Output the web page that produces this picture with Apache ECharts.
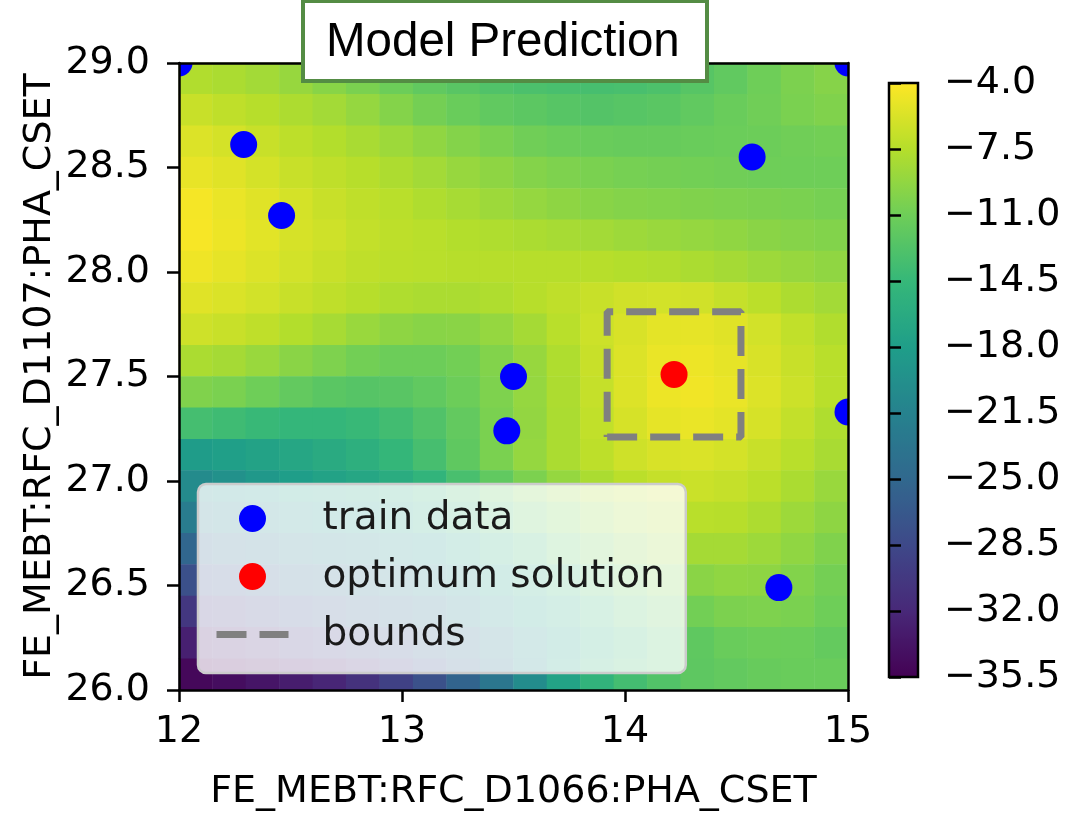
<!DOCTYPE html>
<html>
<head>
<meta charset="utf-8">
<title>Model Prediction</title>
<script src="https://cdn.jsdelivr.net/npm/echarts@6.0.0/dist/echarts.min.js"></script>
<style>
  html, body { margin: 0; padding: 0; background: #fff; }
  #chart { width: 1076px; height: 815px; }
</style>
</head>
<body>
<div id="chart"></div>
<script>
// centres of the prediction grid cells
const gridX = [12.075, 12.225, 12.375, 12.525, 12.675, 12.825, 12.975, 13.125, 13.275, 13.425,
               13.575, 13.725, 13.875, 14.025, 14.175, 14.325, 14.475, 14.625, 14.775, 14.925];
const gridY = [26.075, 26.225, 26.375, 26.525, 26.675, 26.825, 26.975, 27.125, 27.275, 27.425,
               27.575, 27.725, 27.875, 28.025, 28.175, 28.325, 28.475, 28.625, 28.775, 28.925];

// model prediction, one row per gridY value, top row (28.925) first
const predRows = [
  [-7.7, -8.0, -8.4, -9.0, -9.7, -10.4, -11.1, -11.8, -12.3, -12.8, -13.1, -13.3, -13.4, -13.3, -13.0, -12.4, -11.8, -11.0, -10.3, -9.8],
  [-6.6, -7.0, -7.4, -7.9, -8.4, -9.1, -9.9, -10.7, -11.3, -11.8, -12.1, -12.4, -12.6, -12.4, -12.2, -11.8, -11.3, -10.9, -10.4, -10.1],
  [-5.6, -6.0, -6.6, -7.1, -7.6, -8.1, -8.7, -9.3, -9.9, -10.4, -10.9, -11.2, -11.3, -11.4, -11.4, -11.3, -11.2, -11.1, -10.9, -10.8],
  [-5.0, -5.4, -6.0, -6.6, -7.0, -7.4, -7.9, -8.4, -9.0, -9.4, -9.9, -10.2, -10.4, -10.6, -10.7, -10.8, -10.9, -11.0, -11.0, -11.0],
  [-4.4, -4.9, -5.4, -6.0, -6.6, -7.0, -7.3, -7.8, -8.2, -8.7, -9.1, -9.4, -9.7, -9.9, -10.0, -10.1, -10.2, -10.3, -10.4, -10.6],
  [-4.3, -4.8, -5.3, -5.9, -6.3, -6.8, -7.1, -7.3, -7.6, -7.8, -8.0, -8.2, -8.4, -8.7, -8.9, -9.1, -9.3, -9.6, -9.8, -10.0],
  [-4.7, -5.1, -5.6, -6.1, -6.6, -7.0, -7.2, -7.3, -7.4, -7.4, -7.4, -7.4, -7.4, -7.6, -7.7, -8.0, -8.3, -8.7, -9.0, -9.3],
  [-5.4, -5.7, -6.1, -6.6, -7.0, -7.4, -7.8, -8.0, -8.0, -7.8, -7.4, -7.0, -6.6, -6.2, -6.1, -6.2, -6.7, -7.2, -7.9, -8.4],
  [-6.3, -6.6, -7.0, -7.6, -8.2, -8.9, -9.4, -9.7, -9.6, -9.1, -8.3, -7.3, -6.4, -5.8, -5.2, -5.1, -5.4, -6.1, -6.9, -7.7],
  [-8.0, -8.3, -8.9, -9.6, -10.2, -10.8, -11.1, -11.1, -10.8, -10.0, -9.0, -7.8, -6.6, -5.6, -4.9, -4.8, -5.1, -5.8, -6.6, -7.3],
  [-10.1, -10.4, -11.0, -11.7, -12.2, -12.5, -12.3, -11.8, -11.1, -10.2, -9.1, -7.9, -6.7, -5.6, -4.8, -4.6, -4.9, -5.6, -6.4, -7.3],
  [-13.5, -13.9, -14.3, -14.7, -14.7, -14.3, -13.7, -12.8, -11.7, -10.4, -9.2, -8.0, -6.9, -5.9, -5.1, -4.9, -5.2, -5.9, -6.8, -7.8],
  [-18.2, -17.8, -17.4, -16.9, -16.3, -15.6, -14.6, -13.4, -11.9, -10.4, -9.1, -8.0, -7.1, -6.3, -5.8, -5.7, -6.0, -6.6, -7.3, -8.1],
  [-20.4, -19.6, -18.7, -18.0, -17.4, -16.9, -16.1, -14.9, -13.3, -11.8, -10.3, -9.1, -8.0, -7.2, -6.7, -6.5, -6.7, -7.2, -8.0, -8.9],
  [-22.3, -21.6, -20.7, -19.9, -19.2, -18.6, -17.7, -16.4, -15.0, -13.4, -11.9, -10.6, -9.4, -8.4, -7.7, -7.3, -7.4, -7.9, -8.7, -9.4],
  [-25.1, -24.2, -23.2, -22.3, -21.6, -20.8, -19.9, -18.7, -17.2, -15.6, -13.9, -12.3, -11.0, -9.8, -8.9, -8.3, -8.3, -8.7, -9.3, -10.1],
  [-27.7, -26.8, -25.8, -24.9, -24.0, -23.1, -22.1, -20.9, -19.4, -17.8, -16.0, -14.3, -12.8, -11.5, -10.3, -9.6, -9.3, -9.4, -10.0, -10.7],
  [-30.4, -29.6, -28.6, -27.6, -26.6, -25.6, -24.4, -23.1, -21.6, -19.8, -17.9, -16.0, -14.3, -12.9, -11.7, -10.8, -10.3, -10.2, -10.4, -11.0],
  [-32.7, -32.2, -31.4, -30.4, -29.3, -28.2, -27.0, -25.6, -23.9, -22.0, -19.9, -17.8, -15.9, -14.2, -12.9, -11.9, -11.3, -11.1, -11.2, -11.6],
  [-34.9, -34.4, -33.7, -33.0, -32.2, -30.9, -29.3, -27.6, -25.4, -23.1, -20.2, -17.3, -15.0, -13.6, -12.7, -12.0, -11.7, -11.4, -11.3, -11.3]
];

const trainX = [12.0, 12.29, 12.46, 13.50, 13.47, 14.57, 15.0, 15.0, 14.69];
const trainY = [29.0, 28.61, 28.27, 27.50, 27.24, 28.55, 29.0, 27.33, 26.49];
const optX = [14.22];
const optY = [27.51];
const boundsX = [13.92, 14.52];
const boundsY = [27.21, 27.81];

const xTicks = [12, 13, 14, 15];
const yTicks = [26.0, 26.5, 27.0, 27.5, 28.0, 28.5, 29.0];
const colorTicks = ['\u221235.5', '\u221232.0', '\u221228.5', '\u221225.0', '\u221221.5',
                    '\u221218.0', '\u221214.5', '\u221211.0', '\u22127.5', '\u22124.0'];
const colorMin = -35.5;
const colorMax = -4.0;

const viridis = ['#440154', '#482878', '#3e4989', '#31688e', '#26828e',
                 '#1f9e89', '#35b779', '#6ece58', '#b5de2b', '#fde725'];

const font = 'DejaVu Sans';
const lineW = 2.5;

let heatData = [];
predRows.forEach((row, r) => {
  let j = gridY.length - 1 - r;
  row.forEach((v, i) => heatData.push([i, j, v]));
});

let trainData = trainX.map((x, i) => [x, trainY[i]]);
let optData = optX.map((x, i) => [x, optY[i]]);
let boundsData = [
  [boundsX[0], boundsY[0]], [boundsX[1], boundsY[0]], [boundsX[1], boundsY[1]],
  [boundsX[0], boundsY[1]], [boundsX[0], boundsY[0]]
];

// dots drawn as custom shapes so they get cut at the plot edge like matplotlib
function renderDot(params, api) {
  const p = api.coord([api.value(0), api.value(1)]);
  return {
    type: 'circle',
    shape: { cx: p[0], cy: p[1], r: 13.5 },
    style: { fill: api.visual('color') }
  };
}

const chart = echarts.init(document.getElementById('chart'), null, { renderer: 'canvas' });

const option = {
  animation: false,
  backgroundColor: '#fff',
  title: {
    text: 'Model Prediction',
    left: 303,
    top: 1,
    padding: [14, 27, 10, 23],
    backgroundColor: '#fff',
    borderColor: '#548c44',
    borderWidth: 4,
    z: 20,
    textStyle: {
      fontFamily: 'Liberation Sans',
      fontSize: 47.5,
      fontWeight: 'normal',
      color: '#000',
      lineHeight: 56
    }
  },
  legend: {
    data: [
      { name: 'train data', icon: 'circle' },
      { name: 'optimum solution', icon: 'circle' },
      { name: 'bounds', itemStyle: { opacity: 0 },
        lineStyle: { color: '#808080', width: 7, type: [30, 13] } }
    ],
    orient: 'vertical',
    left: 198,
    top: 484,
    padding: [15, 21, 19, 15],
    itemGap: 19,
    itemWidth: 72,
    itemHeight: 27,
    backgroundColor: 'rgba(255,255,255,0.8)',
    borderColor: '#cccccc',
    borderWidth: 2.5,
    borderRadius: 8,
    z: 15,
    textStyle: {
      fontFamily: font,
      fontSize: 39,
      lineHeight: 38,
      color: '#1a1a1a',
      padding: [0, 0, 0, 29]
    }
  },
  grid: [
    { left: 179, top: 63, width: 669, height: 627, containLabel: false, outerBoundsMode: 'none' },
    { left: 889, top: 83, width: 29, height: 594, containLabel: false, outerBoundsMode: 'none',
      show: true, backgroundColor: 'transparent', borderColor: '#000', borderWidth: lineW, z: 10 }
  ],
  visualMap: {
    type: 'continuous',
    seriesIndex: 0,
    min: colorMin,
    max: colorMax,
    calculable: false,
    left: 889,
    top: 83,
    padding: 0,
    itemWidth: 29,
    itemHeight: 594,
    showLabel: false,
    inRange: { color: viridis }
  },
  xAxis: [
    {
      type: 'value', gridIndex: 0, position: 'bottom', z: 10,
      min: xTicks[0], max: xTicks[xTicks.length - 1], interval: xTicks[1] - xTicks[0],
      name: 'FE_MEBT:RFC_D1066:PHA_CSET', nameLocation: 'middle', nameGap: 83,
      nameMoveOverlap: false,
      nameTextStyle: { fontFamily: font, fontSize: 38, color: '#000' },
      axisLine: { show: true, lineStyle: { color: '#000', width: lineW } },
      axisTick: { show: true, inside: false, length: 12, lineStyle: { color: '#000', width: lineW } },
      axisLabel: { fontFamily: font, fontSize: 38, color: '#000', margin: 23 },
      splitLine: { show: false }
    },
    {
      type: 'category', gridIndex: 0, position: 'top', z: 10,
      data: gridX,
      axisLine: { show: true, lineStyle: { color: '#000', width: lineW } },
      axisTick: { show: false },
      axisLabel: { show: false },
      splitLine: { show: false }
    },
    { type: 'value', gridIndex: 1, show: false, min: 0, max: 1 }
  ],
  yAxis: [
    {
      type: 'value', gridIndex: 0, position: 'left', z: 10,
      min: yTicks[0], max: yTicks[yTicks.length - 1], interval: yTicks[1] - yTicks[0],
      name: 'FE_MEBT:RFC_D1107:PHA_CSET', nameLocation: 'middle', nameGap: 120,
      nameMoveOverlap: false,
      nameTextStyle: { fontFamily: font, fontSize: 38, color: '#000' },
      axisLine: { show: true, lineStyle: { color: '#000', width: lineW } },
      axisTick: { show: true, inside: false, length: 12, lineStyle: { color: '#000', width: lineW } },
      axisLabel: { fontFamily: font, fontSize: 38, color: '#000', margin: 29,
                   formatter: v => v.toFixed(1) },
      splitLine: { show: false }
    },
    {
      type: 'category', gridIndex: 0, position: 'right', z: 10,
      data: gridY,
      axisLine: { show: true, lineStyle: { color: '#000', width: lineW } },
      axisTick: { show: false },
      axisLabel: { show: false },
      splitLine: { show: false }
    },
    {
      type: 'category', gridIndex: 1, position: 'right', z: 10,
      data: colorTicks, boundaryGap: false,
      axisLine: { show: false },
      axisTick: { show: true, inside: false, length: 12, interval: 0,
                  lineStyle: { color: '#000', width: lineW } },
      axisLabel: { fontFamily: font, fontSize: 38, color: '#000', margin: 26, interval: 0 },
      splitLine: { show: false }
    }
  ],
  series: [
    {
      type: 'heatmap',
      xAxisIndex: 1,
      yAxisIndex: 1,
      data: heatData,
      progressive: 0,
      emphasis: { disabled: true }
    },
    {
      name: 'train data',
      type: 'custom',
      xAxisIndex: 0,
      yAxisIndex: 0,
      data: trainData,
      encode: { x: 0, y: 1 },
      renderItem: renderDot,
      clip: true,
      z: 3,
      itemStyle: { color: '#0000ff' }
    },
    {
      name: 'optimum solution',
      type: 'custom',
      xAxisIndex: 0,
      yAxisIndex: 0,
      data: optData,
      encode: { x: 0, y: 1 },
      renderItem: renderDot,
      clip: true,
      z: 3,
      itemStyle: { color: '#ff0000' }
    },
    {
      name: 'bounds',
      type: 'line',
      xAxisIndex: 0,
      yAxisIndex: 0,
      data: boundsData,
      symbol: 'none',
      z: 3,
      lineStyle: { color: '#808080', width: 7, type: [30, 13] },
      itemStyle: { color: '#808080' }
    }
  ]
};

chart.setOption(option);
</script>
</body>
</html>
